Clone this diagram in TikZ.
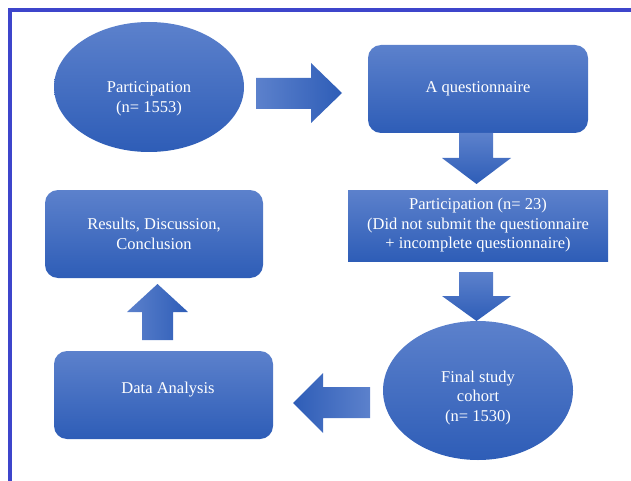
\documentclass[tikz,border=0pt]{standalone}
\usepackage{fontspec}
\setmainfont{Liberation Serif}
\usetikzlibrary{shapes.geometric}
\definecolor{lightblue}{HTML}{5C81CC}
\definecolor{darkblue}{HTML}{2E5DB7}
\definecolor{framecol}{HTML}{3D45CB}
\begin{document}
\begin{tikzpicture}[x=1pt,y=-1pt,
  txt/.style={text=white, font=\fontsize{16.5}{19.5}\selectfont, align=center, inner sep=0pt},
  plainbox/.style={rectangle, top color=lightblue, bottom color=darkblue, draw=none, inner sep=0pt, txt},
  roundbox/.style={plainbox, rounded corners=13pt},
  oval/.style={ellipse, top color=lightblue, bottom color=darkblue, draw=none, inner sep=0pt},
  hlr/.style={left color=lightblue, right color=darkblue},
  hrl/.style={left color=darkblue, right color=lightblue},
  vtb/.style={top color=lightblue, bottom color=darkblue}
]
\useasboundingbox (0,0) rectangle (631,481);
% frame
\draw[line width=3.3pt, framecol] (10,481) -- (10,10) -- (631,10);

% shapes
\node[oval, minimum width=190pt, minimum height=130pt] (ell1) at (149,87) {};
\node[txt] (t1) at (149,99) {Participation\\(n= 1553)};

\node[roundbox, minimum width=220pt, minimum height=88pt] (quest) at (478,89) {A questionnaire};

\node[plainbox, minimum width=260pt, minimum height=71pt] (part) at (478,225.5)
  {Participation (n= 23)\\(Did not submit the questionnaire\\+ incomplete questionnaire)};

\node[oval, minimum width=190pt, minimum height=139pt] (ell2) at (478,390.5) {};
\node[txt] (t2) at (478,398) {Final study\\cohort\\(n= 1530)};

\node[roundbox, minimum width=219pt, minimum height=88pt] (data) at (163.5,395) {};
\node[txt] (t3) at (168,390) {Data Analysis};

\node[roundbox, minimum width=218pt, minimum height=88pt] (res) at (154,234)
  {Results, Discussion,\\Conclusion};

% block arrows
\shade[hlr] (256,78) -- (311,78) -- (311,63) -- (342,93) -- (311,123) -- (311,109) -- (256,109) -- cycle;
\shade[vtb] (459,133) -- (493,133) -- (493,158) -- (511,158) -- (476.5,184) -- (442,158) -- (459,158) -- cycle;
\shade[vtb] (459,272) -- (493,272) -- (493,296) -- (511,296) -- (476.5,321) -- (442,296) -- (459,296) -- cycle;
\shade[hrl] (370,387) -- (323,387) -- (323,373) -- (293,403) -- (323,433) -- (323,418) -- (370,418) -- cycle;
\shade[hlr] (142,340) -- (142,312) -- (127,312) -- (157.5,284) -- (188,312) -- (173,312) -- (173,340) -- cycle;
\end{tikzpicture}
\end{document}
